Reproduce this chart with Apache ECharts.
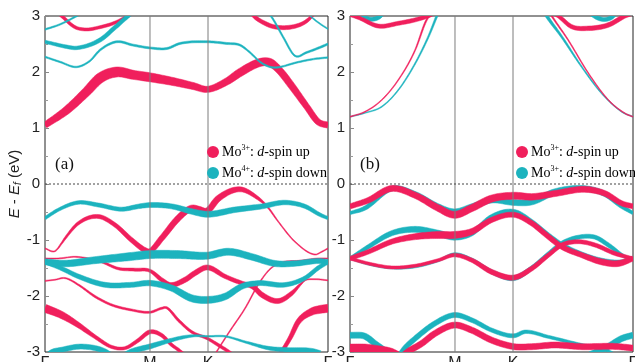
<!DOCTYPE html>
<html>
<head>
<meta charset="utf-8">
<script src="https://cdn.jsdelivr.net/npm/echarts@6/dist/echarts.min.js"></script>
<style>
  html, body { margin: 0; padding: 0; background: #fff; }
  #chart { width: 635px; height: 362px; }
</style>
</head>
<body>
<div id="chart"></div>
<script>
// High-symmetry path (fraction of total path length) and its labels
const kTicks = [0, 0.371, 0.576, 1];
const kLabels = ['Γ', 'M', 'K', 'Γ'];
const energyTicks = [-3, -2, -1, 0, 1, 2, 3];
const E_MIN = -3, E_MAX = 3, E_STEP = 1;

// Each band: [k, E (eV), projected weight]
// ---- panel (a): Mo3+ spin-up (red) ----
const aUpCond = [[0,1.05,.6],[.077,1.32,.8],[.147,1.65,.9],[.194,1.89,1],[.253,2.0,1],[.311,1.95,.9],[.371,1.905,.9],[.452,1.83,.8],[.523,1.75,.7],[.574,1.69,.6],[.642,1.83,.7],[.689,1.99,.8],[.760,2.17,.8],[.795,2.17,.8],[.830,2.02,.7],[.866,1.79,.7],[.925,1.38,.6],[.965,1.11,.6],[1,1.05,.6]];
const aUpTop1 = [[.035,3.1,.3],[.059,3.0,.3],[.106,2.8,.3],[.147,2.76,.3],[.194,2.8,.3],[.247,2.88,.3],[.293,3.0,.3],[.318,3.08,.3]];
const aUpTop2 = [[.724,3.08,.3],[.742,2.98,.35],[.777,2.87,.4],[.807,2.81,.4],[.866,2.80,.4],[.912,2.87,.35],[.936,2.96,.3],[.951,3.05,.3]];
const aUpVal1 = [[0,-1.15,.1],[.035,-1.20,.1],[.060,-1.05,.15],[.071,-0.97,.2],[.118,-0.70,.3],[.188,-0.58,.4],[.247,-0.73,.4],[.306,-1.00,.45],[.353,-1.18,.5],[.371,-1.20,.5],[.412,-0.97,.55],[.471,-0.61,.6],[.518,-0.43,.6],[.542,-0.45,.6],[.573,-0.48,.6],[.612,-0.26,.6],[.689,-0.095,.5],[.754,-0.26,.3],[.788,-0.42,.15],[.824,-0.67,.1],[.883,-1.03,.1],[.954,-1.26,.1],[.978,-1.21,.1],[1,-1.15,.1]];
const aUpVal2 = [[0,-1.33,.1],[.047,-1.33,.1],[.106,-1.30,.1],[.153,-1.33,.12],[.200,-1.39,.2],[.259,-1.51,.25],[.318,-1.53,.3],[.371,-1.55,.3],[.412,-1.71,.4],[.442,-1.80,.45],[.495,-1.71,.5],[.530,-1.59,.5],[.573,-1.49,.5],[.636,-1.65,.4],[.695,-1.77,.4],[.736,-1.84,.45],[.767,-1.98,.5],[.824,-2.09,.5],[.872,-1.95,.4],[.901,-1.80,.2],[.919,-1.72,.1],[.954,-1.70,.1],[1,-1.72,.1]];
const aUpVal3 = [[0,-1.73,.1],[.035,-1.71,.1],[.071,-1.68,.12],[.118,-1.80,.15],[.177,-2.01,.2],[.236,-2.16,.2],[.306,-2.25,.2],[.371,-2.29,.2],[.412,-2.22,.2],[.430,-2.21,.2],[.471,-2.43,.25],[.518,-2.64,.25],[.574,-2.76,.25],[.612,-2.875,.3],[.648,-2.99,.3],[.671,-3.08,.3]];
const aUpVal4 = [[.594,-3.1,.1],[.607,-2.99,.1],[.654,-2.62,.1],[.707,-2.22,.1],[.753,-1.80,.1],[.795,-1.52,.1],[.837,-1.40,.1],[.901,-1.37,.1],[.965,-1.33,.1],[1,-1.33,.1]];
const aUpDeep1 = [[0,-2.22,.8],[.059,-2.34,.7],[.118,-2.52,.5],[.177,-2.73,.35],[.236,-2.91,.3],[.283,-2.93,.3],[.330,-2.79,.35],[.371,-2.64,.4],[.412,-2.70,.35],[.448,-2.875,.3],[.471,-2.96,.3],[.495,-3.06,.3]];
const aUpDeep2 = [[.823,-3.05,.3],[.836,-2.99,.35],[.866,-2.75,.4],[.895,-2.46,.5],[.942,-2.28,.7],[.972,-2.24,.8],[1,-2.22,.8]];

// ---- panel (a): Mo4+ spin-down (cyan) ----
const aDnTop1 = [[0,2.54,.3],[.077,2.45,.35],[.111,2.43,.35],[.194,2.57,.4],[.244,2.78,.4],[.293,3.0,.4],[.318,3.1,.4]];
const aDnTop2 = [[0,2.76,.15],[.053,2.85,.15],[.112,3.0,.15],[.141,3.08,.15]];
const aDnTop3 = [[0,2.27,.15],[.053,2.18,.15],[.112,2.09,.15],[.159,2.2,.15],[.194,2.39,.18],[.253,2.54,.2],[.311,2.48,.2],[.371,2.43,.2],[.431,2.42,.2],[.477,2.51,.2],[.575,2.54,.2],[.642,2.51,.2],[.689,2.48,.18],[.724,2.35,.15],[.760,2.18,.15],[.795,2.09,.15],[.819,2.08,.15],[.889,2.17,.15],[.948,2.23,.15],[1,2.26,.15]];
const aDnTop4 = [[.788,3.05,.15],[.801,2.98,.15],[.842,2.62,.15],[.883,2.29,.15],[.925,2.35,.18],[.972,2.44,.2],[1,2.5,.2]];
const aDnTop5 = [[.929,3.05,.12],[.942,2.98,.12],[.972,2.86,.12],[1,2.77,.12]];
const aDnVal1 = [[0,-0.61,.3],[.047,-0.46,.3],[.118,-0.33,.35],[.188,-0.375,.4],[.271,-0.45,.4],[.330,-0.40,.45],[.371,-0.375,.5],[.448,-0.40,.5],[.518,-0.49,.55],[.574,-0.54,.6],[.671,-0.46,.55],[.766,-0.40,.5],[.848,-0.33,.45],[.919,-0.40,.4],[.972,-0.55,.35],[1,-0.61,.3]];
const aDnVal2 = [[0,-1.39,.6],[.071,-1.42,.65],[.177,-1.36,.7],[.294,-1.30,.8],[.371,-1.26,.8],[.471,-1.26,.8],[.573,-1.28,.7],[.648,-1.21,.7],[.730,-1.30,.65],[.813,-1.42,.6],[.883,-1.42,.55],[.966,-1.375,.5],[1,-1.39,.5]];
const aDnVal3 = [[0,-1.39,.4],[.059,-1.51,.4],[.118,-1.65,.45],[.212,-1.80,.5],[.306,-1.80,.5],[.371,-1.77,.55],[.448,-1.86,.6],[.518,-2.04,.7],[.573,-2.07,.7],[.636,-2.01,.65],[.695,-1.83,.55],[.754,-1.77,.5],[.848,-1.80,.45],[.919,-1.68,.4],[.965,-1.50,.4],[1,-1.39,.4]];
const aDnDeep1 = [[0,-3.1,.5],[.025,-3.0,.5],[.059,-2.96,.5],[.118,-2.905,.5],[.177,-2.93,.5],[.212,-2.99,.5],[.230,-3.05,.5]];
const aDnDeep2 = [[.283,-3.05,.5],[.306,-2.99,.5],[.371,-2.90,.5],[.424,-2.82,.4],[.495,-2.73,.3],[.530,-2.71,.2],[.574,-2.72,.15],[.636,-2.72,.15],[.707,-2.82,.2],[.789,-2.93,.35],[.848,-2.96,.45],[.942,-2.98,.5],[.972,-3.02,.5]];

// ---- panel (b): Mo3+ spin-up (red) ----
const bUpTop1 = [[0,3.02,.3],[.035,2.96,.35],[.100,2.82,.4],[.171,2.87,.4],[.230,2.93,.4],[.277,3.0,.35],[.300,3.05,.3]];
const bUpTop2 = [[.717,3.05,.3],[.736,3.0,.35],[.783,2.81,.4],[.842,2.78,.45],[.913,2.84,.45],[.972,3.0,.4],[1,3.05,.4]];
const bUpCond1 = [[0,1.20,.08],[.053,1.29,.08],[.112,1.50,.08],[.171,1.86,.08],[.230,2.39,.1],[.265,2.87,.15],[.277,2.99,.15],[.283,3.05,.15]];
const bUpCond2 = [[.707,3.05,.15],[.713,3.0,.15],[.771,2.57,.1],[.842,1.98,.08],[.913,1.5,.08],[.972,1.26,.08],[1,1.20,.08]];
const bUpVal1 = [[0,-0.40,.5],[.065,-0.29,.55],[.147,-0.08,.6],[.230,-0.20,.6],[.312,-0.43,.65],[.369,-0.55,.7],[.430,-0.43,.7],[.501,-0.26,.7],[.580,-0.21,.7],[.642,-0.23,.65],[.724,-0.17,.6],[.830,-0.095,.6],[.901,-0.17,.55],[.960,-0.345,.5],[1,-0.40,.5]];
const bUpVal2 = [[0,-1.33,.4],[.065,-1.21,.45],[.147,-1.03,.5],[.230,-0.94,.6],[.312,-0.91,.7],[.369,-0.91,.7],[.430,-0.85,.6],[.501,-0.64,.5],[.580,-0.55,.5],[.642,-0.70,.5],[.701,-0.94,.5],[.748,-1.12,.5],[.819,-1.27,.5],[.889,-1.39,.6],[.948,-1.42,.6],[1,-1.33,.5]];
const bUpVal3 = [[0,-1.33,.3],[.065,-1.42,.3],[.147,-1.49,.3],[.230,-1.46,.3],[.312,-1.36,.3],[.369,-1.27,.35],[.430,-1.36,.4],[.501,-1.57,.5],[.580,-1.67,.5],[.642,-1.51,.45],[.701,-1.27,.4],[.748,-1.09,.4],[.807,-1.03,.4],[.866,-1.09,.4],[.936,-1.24,.4],[1,-1.33,.3]];
const bUpDeep1 = [[.191,-3.05,.6],[.206,-2.99,.6],[.253,-2.85,.6],[.300,-2.67,.6],[.369,-2.52,.6],[.430,-2.61,.6],[.501,-2.79,.6],[.580,-2.905,.6],[.642,-2.905,.6],[.724,-2.875,.6],[.819,-2.905,.6],[.936,-2.90,.6],[1,-2.93,.6]];
const bUpDeep2 = [[0,-2.93,.8],[.053,-2.93,.8],[.112,-2.96,.7],[.147,-2.99,.6],[.170,-3.05,.6]];

// ---- panel (b): Mo3+ spin-down (cyan) ----
const bDnTop1 = [[.035,3.05,.4],[.064,2.95,.4],[.099,2.97,.4],[.117,3.05,.4]];
const bDnTop2 = [[.848,3.05,.4],[.883,2.95,.4],[.919,2.96,.4],[.940,3.05,.4]];
const bDnCond1 = [[0,1.20,.08],[.053,1.27,.08],[.112,1.38,.1],[.171,1.68,.1],[.230,2.15,.12],[.277,2.63,.15],[.306,2.99,.2],[.311,3.05,.2]];
const bDnCond2 = [[.689,3.05,.3],[.695,3.0,.3],[.748,2.63,.2],[.819,2.09,.12],[.889,1.62,.1],[.960,1.29,.08],[1,1.20,.08]];
const bDnVal1 = [[0,-0.52,.3],[.053,-0.43,.4],[.147,-0.08,.5],[.230,-0.18,.5],[.312,-0.40,.5],[.369,-0.49,.5],[.430,-0.40,.5],[.501,-0.29,.55],[.580,-0.33,.6],[.642,-0.32,.6],[.724,-0.14,.6],[.830,-0.08,.55],[.901,-0.18,.5],[.960,-0.40,.4],[1,-0.52,.3]];
const bDnVal2 = [[0,-1.33,.3],[.065,-1.12,.4],[.147,-0.88,.5],[.230,-0.81,.6],[.312,-0.88,.6],[.369,-0.95,.6],[.430,-0.88,.5],[.501,-0.58,.4],[.580,-0.49,.4],[.642,-0.67,.4],[.701,-0.91,.4],[.748,-1.08,.4],[.819,-1.25,.4],[.889,-1.36,.4],[.960,-1.39,.4],[1,-1.33,.3]];
const bDnVal3 = [[0,-1.33,.2],[.065,-1.43,.2],[.147,-1.50,.2],[.230,-1.48,.2],[.312,-1.37,.2],[.369,-1.25,.25],[.430,-1.35,.3],[.501,-1.57,.4],[.580,-1.68,.5],[.642,-1.50,.4],[.701,-1.25,.4],[.748,-1.06,.4],[.807,-0.95,.4],[.866,-0.95,.4],[.913,-1.09,.4],[.972,-1.30,.3],[1,-1.33,.3]];
const bDnDeep1 = [[.177,-3.05,.5],[.194,-2.93,.5],[.230,-2.76,.5],[.300,-2.49,.5],[.369,-2.34,.5],[.430,-2.43,.45],[.501,-2.61,.4],[.580,-2.71,.4],[.618,-2.64,.35],[.701,-2.73,.3],[.819,-2.875,.3],[.901,-2.96,.3],[.926,-3.02,.3]];
const bDnDeep2 = [[0,-2.70,.6],[.053,-2.72,.6],[.088,-2.85,.6],[.124,-2.99,.6],[.134,-3.05,.6]];
const bDnDeep3 = [[.848,-3.05,.6],[.913,-2.9,.6],[.960,-2.76,.6],[1,-2.70,.6]];

const RED = '#f01f5c';
const CYAN = '#1cb3be';
const WIDTH_SCALE = 10;   // px per unit weight
const MIN_WIDTH = 0.9;
const SANS = '"Liberation Sans", Arial, sans-serif';
const SERIF = '"Liberation Serif", "Times New Roman", serif';

// Smooth centre line (cubic Hermite in screen space) with a width per sample
function sampleBand(P, W) {
  const n = P.length, pts = [], ws = [];
  const slope = i => {
    if (i === 0) return (P[1][1] - P[0][1]) / ((P[1][0] - P[0][0]) || 1e-6);
    if (i === n - 1) return (P[n-1][1] - P[n-2][1]) / ((P[n-1][0] - P[n-2][0]) || 1e-6);
    const d0 = (P[i][1] - P[i-1][1]) / ((P[i][0] - P[i-1][0]) || 1e-6);
    const d1 = (P[i+1][1] - P[i][1]) / ((P[i+1][0] - P[i][0]) || 1e-6);
    return (d0 + d1) / 2;
  };
  for (let i = 0; i < n - 1; i++) {
    const x0 = P[i][0], x1 = P[i+1][0], y0 = P[i][1], y1 = P[i+1][1];
    const h = x1 - x0, m0 = slope(i), m1 = slope(i+1);
    const steps = Math.max(4, Math.ceil(Math.hypot(h, y1 - y0) / 2));
    for (let s = 0; s < steps; s++) {
      const t = s / steps, t2 = t * t, t3 = t2 * t;
      const y = (2*t3 - 3*t2 + 1) * y0 + (t3 - 2*t2 + t) * h * m0 + (-2*t3 + 3*t2) * y1 + (t3 - t2) * h * m1;
      pts.push([x0 + h * t, y]);
      ws.push(W[i] + (W[i+1] - W[i]) * t);
    }
  }
  pts.push(P[n-1]); ws.push(W[n-1]);
  return { pts, ws };
}

// A fat band: a filled ribbon whose thickness follows the projected weight
function bandSeries(g, color, band) {
  return {
    type: 'custom', xAxisIndex: g, yAxisIndex: g, clip: true, silent: true, z: 2,
    data: [[band[0][0], band[0][1]]],
    renderItem: (params, api) => {
      const P = band.map(p => api.coord([p[0], p[1]]));
      const W = band.map(p => Math.max(p[2] * WIDTH_SCALE, MIN_WIDTH));
      const { pts, ws } = sampleBand(P, W);
      const left = [], right = [];
      for (let j = 0; j < pts.length; j++) {
        const a = pts[Math.max(j-1, 0)], b = pts[Math.min(j+1, pts.length-1)];
        const tx = b[0] - a[0], ty = b[1] - a[1], len = Math.hypot(tx, ty) || 1;
        const nx = -ty / len, ny = tx / len, hw = ws[j] / 2;
        left.push([pts[j][0] + nx * hw, pts[j][1] + ny * hw]);
        right.push([pts[j][0] - nx * hw, pts[j][1] - ny * hw]);
      }
      return {
        type: 'polygon',
        shape: { points: left.concat(right.reverse()) },
        style: { fill: color, stroke: color, lineWidth: 0.5 }
      };
    }
  };
}

// High-symmetry verticals and the Fermi level
function guideSeries(g) {
  return [{
    type: 'custom', xAxisIndex: g, yAxisIndex: g, silent: true, z: 5,
    data: kTicks.slice(1, -1).map(k => [k, 0]),
    renderItem: (params, api) => {
      const a = api.coord([api.value(0), E_MAX]), b = api.coord([api.value(0), E_MIN]);
      return { type: 'line', shape: { x1: a[0], y1: a[1], x2: b[0], y2: b[1] },
               style: { stroke: '#7d7d7d', lineWidth: 1 } };
    }
  }, {
    type: 'custom', xAxisIndex: g, yAxisIndex: g, silent: true, z: 5,
    data: [[0, 0]],
    renderItem: (params, api) => {
      const a = api.coord([kTicks[0], api.value(1)]), b = api.coord([kTicks[kTicks.length-1], api.value(1)]);
      return { type: 'line', shape: { x1: a[0], y1: a[1], x2: b[0], y2: b[1] },
               style: { stroke: '#444', lineWidth: 1, lineDash: [2, 2] } };
    }
  }];
}

// Energy tick labels for the right-hand panel, placed on its own scale
function energyLabelSeries(g) {
  return {
    type: 'custom', xAxisIndex: g, yAxisIndex: g, silent: true, clip: false, z: 6,
    data: energyTicks.map(e => [kTicks[0], e]),
    renderItem: (params, api) => {
      const p = api.coord([api.value(0), api.value(1)]);
      return { type: 'text', x: p[0] - 5, y: p[1],
               style: { text: String(api.value(1)), fontSize: 15, fontFamily: SANS, fill: '#222',
                        align: 'right', verticalAlign: 'middle' } };
    }
  };
}

function xAxisFor(g) {
  return {
    type: 'value', gridIndex: g, min: 0, max: 1,
    axisLine: { show: false }, axisTick: { show: false }, splitLine: { show: false },
    axisLabel: {
      customValues: kTicks, margin: 4, fontSize: 16, color: '#222', fontFamily: SANS,
      formatter: v => kLabels[kTicks.indexOf(v)]
    }
  };
}
function yAxisFor(g, withName) {
  const ax = {
    type: 'value', gridIndex: g, position: 'left', min: E_MIN, max: E_MAX, interval: E_STEP,
    axisLine: { show: false },
    axisTick: { show: true, inside: true, length: 4, lineStyle: { color: '#888' } },
    minorTick: { show: true, splitNumber: 2, length: 3, lineStyle: { color: '#999' } },
    splitLine: { show: false },
    axisLabel: { show: withName, fontSize: 15, color: '#222', margin: 5, fontFamily: SANS }
  };
  if (withName) {
    Object.assign(ax, {
      name: '{i|E} - {i|E}{s|f} (eV)',
      nameLocation: 'middle', nameGap: 20,
      nameTextStyle: {
        fontSize: 15, color: '#222', fontFamily: SANS,
        rich: {
          i: { fontStyle: 'italic', fontSize: 15 },
          s: { fontStyle: 'italic', fontSize: 10, verticalAlign: 'bottom', padding: [6, 0, 0, 0] }
        }
      }
    });
  }
  return ax;
}

function legendGraphic(x, y, color, ion, spin) {
  const rich = {
    n: { fontSize: 14, fontFamily: SERIF, color: '#111', lineHeight: 16 },
    s: { fontSize: 8, fontFamily: SERIF, color: '#111', verticalAlign: 'top', lineHeight: 16 },
    i: { fontSize: 14, fontFamily: SERIF, fontStyle: 'italic', color: '#111', lineHeight: 16 }
  };
  return [
    { type: 'circle', shape: { cx: x, cy: y, r: 6 }, style: { fill: color }, z: 10 },
    { type: 'text', x: x + 9, y: y, z: 10,
      style: { text: '{n|Mo}{s|' + ion + '}{n|: }{i|d}{n|-spin ' + spin + '}', rich, verticalAlign: 'middle', align: 'left' } }
  ];
}

const series = [];
// panel (a): red under cyan
[aUpCond, aUpTop1, aUpTop2, aUpVal1, aUpVal2, aUpVal3, aUpVal4, aUpDeep1, aUpDeep2]
  .forEach(b => series.push(bandSeries(0, RED, b)));
[aDnTop1, aDnTop2, aDnTop3, aDnTop4, aDnTop5, aDnVal1, aDnVal2, aDnVal3, aDnDeep1, aDnDeep2]
  .forEach(b => series.push(bandSeries(0, CYAN, b)));
// panel (b): cyan under red
[bDnTop1, bDnTop2, bDnCond1, bDnCond2, bDnVal1, bDnVal2, bDnVal3, bDnDeep1, bDnDeep2, bDnDeep3]
  .forEach(b => series.push(bandSeries(1, CYAN, b)));
[bUpTop1, bUpTop2, bUpCond1, bUpCond2, bUpVal1, bUpVal2, bUpVal3, bUpDeep1, bUpDeep2]
  .forEach(b => series.push(bandSeries(1, RED, b)));
series.push(...guideSeries(0), ...guideSeries(1), energyLabelSeries(1));

const gridBase = { top: 16, width: 283, height: 336, show: true, borderColor: '#222', borderWidth: 1,
                   backgroundColor: 'transparent', outerBoundsMode: 'none' };

const chart = echarts.init(document.getElementById('chart'));
chart.setOption({
  animation: false,
  backgroundColor: '#fff',
  grid: [Object.assign({ left: 45 }, gridBase), Object.assign({ left: 350 }, gridBase)],
  xAxis: [xAxisFor(0), xAxisFor(1)],
  yAxis: [yAxisFor(0, true), yAxisFor(1, false)],
  series,
  graphic: [
    { type: 'text', x: 55, y: 165, z: 10, style: { text: '(a)', fontSize: 17, fontFamily: SERIF, fill: '#111', verticalAlign: 'middle' } },
    { type: 'text', x: 360, y: 165, z: 10, style: { text: '(b)', fontSize: 17, fontFamily: SERIF, fill: '#111', verticalAlign: 'middle' } },
    ...legendGraphic(213, 152, RED, '3+', 'up'),
    ...legendGraphic(213, 173, CYAN, '4+', 'down'),
    ...legendGraphic(522, 152, RED, '3+', 'up'),
    ...legendGraphic(522, 173, CYAN, '3+', 'down')
  ]
});
</script>
</body>
</html>
